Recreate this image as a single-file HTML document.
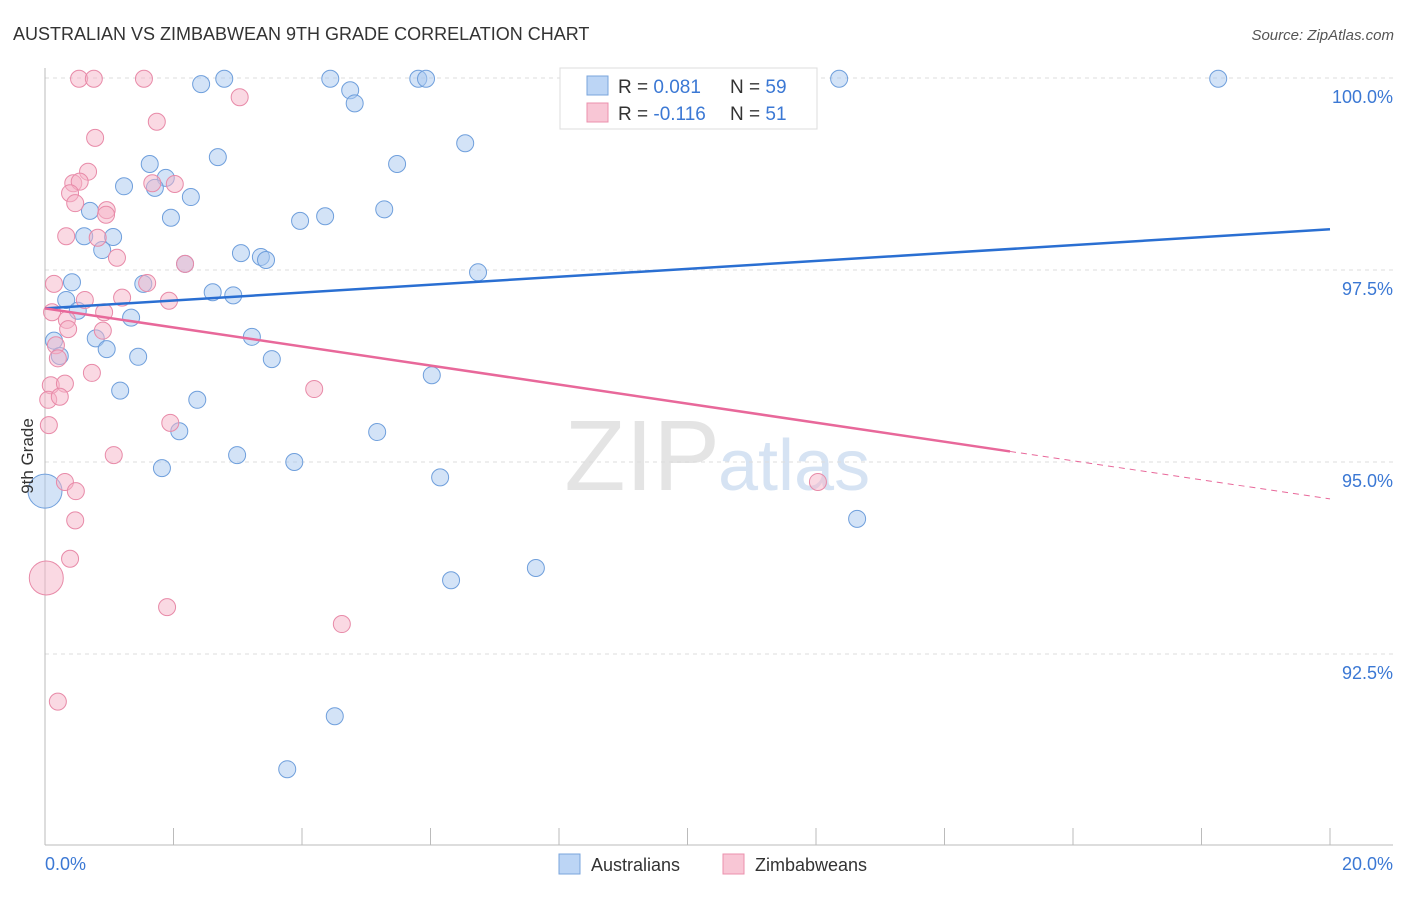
<!DOCTYPE html>
<html><head><meta charset="utf-8"><style>
body{margin:0;background:#fff;font-family:"Liberation Sans",sans-serif}
svg text{font-family:"Liberation Sans",sans-serif}
</style></head><body>
<svg id="c" width="1406" height="892" xmlns="http://www.w3.org/2000/svg">
<text x="13" y="40" font-size="18" fill="#333">AUSTRALIAN VS ZIMBABWEAN 9TH GRADE CORRELATION CHART</text>
<text x="1394" y="40" font-size="15" fill="#555" font-style="italic" text-anchor="end">Source: ZipAtlas.com</text>
<text x="720" y="490" font-size="100" fill="#e4e4e4" text-anchor="end" font-family="Liberation Serif">ZIP</text>
<text x="718" y="490" font-size="72" fill="#d6e3f3">atlas</text>
<g id="grid"></g><g id="axes"></g><g id="pts"></g><g id="lines"></g>
<text transform="translate(33,456) rotate(-90)" font-size="17" fill="#333" text-anchor="middle">9th Grade</text>
<text x="45" y="870" font-size="18" fill="#3b78d4">0.0%</text>
<text x="1393" y="870" font-size="18" fill="#3b78d4" text-anchor="end">20.0%</text>
<g>
<rect x="560" y="68" width="257" height="61" fill="#fff" stroke="#ddd"/>
<rect x="587" y="76" width="21" height="19" fill="#bcd5f5" stroke="#7aa5dc"/>
<rect x="587" y="103" width="21" height="19" fill="#f8c6d5" stroke="#eb90ad"/>
<text x="618" y="93" font-size="19" fill="#333">R = <tspan fill="#3b78d4">0.081</tspan><tspan x="730">N = </tspan><tspan fill="#3b78d4">59</tspan></text>
<text x="618" y="120" font-size="19" fill="#333">R = <tspan fill="#3b78d4">-0.116</tspan><tspan x="730">N = </tspan><tspan fill="#3b78d4"> 51</tspan></text>
</g>
<g>
<rect x="559" y="854" width="21" height="20" fill="#bcd5f5" stroke="#7aa5dc"/>
<text x="591" y="871" font-size="18" fill="#333">Australians</text>
<rect x="723" y="854" width="21" height="20" fill="#f8c6d5" stroke="#eb90ad"/>
<text x="755" y="871" font-size="18" fill="#333">Zimbabweans</text>
</g>
</svg>
<script>
const blueX=[2.43,2.79,4.44,4.75,4.82,5.81,5.93,12.36,18.26,6.54,5.48,2.69,1.63,1.88,1.71,1.23,2.27,0.70,1.96,3.97,4.36,5.28,0.61,1.06,0.89,3.05,3.36,3.44,2.18,6.74,0.42,1.53,2.61,2.93,0.33,0.51,1.34,3.22,0.79,0.14,0.96,0.23,1.45,3.53,6.02,1.17,2.37,2.09,5.17,2.99,3.88,1.82,6.15,12.64,6.32,7.64,4.51,3.77,0.0];
const blueY=[99.92,99.99,99.99,99.84,99.67,99.99,99.99,99.99,99.99,99.15,98.88,98.97,98.88,98.70,98.57,98.59,98.45,98.27,98.18,98.14,98.20,98.29,97.94,97.93,97.76,97.72,97.67,97.63,97.58,97.47,97.34,97.32,97.21,97.17,97.11,96.97,96.88,96.63,96.61,96.58,96.47,96.38,96.37,96.34,96.13,95.93,95.81,95.40,95.39,95.09,95.00,94.92,94.80,94.26,93.46,93.62,91.69,91.00,94.62];
const pinkX=[0.53,0.76,1.54,3.03,1.74,0.78,0.67,0.44,0.54,1.67,2.02,0.39,0.47,0.96,0.95,0.33,0.82,1.12,2.18,0.14,1.59,0.62,1.20,1.93,0.11,0.92,0.34,0.36,0.90,0.17,0.20,0.73,0.09,0.31,4.19,0.05,0.23,0.06,1.95,1.07,0.31,0.48,0.47,0.39,0.02,1.90,4.62,0.20,12.03];
const pinkY=[99.99,99.99,99.99,99.75,99.43,99.22,98.78,98.63,98.65,98.63,98.62,98.50,98.37,98.28,98.22,97.94,97.92,97.66,97.58,97.32,97.33,97.11,97.14,97.10,96.95,96.95,96.85,96.73,96.71,96.52,96.35,96.16,96.00,96.02,95.95,95.81,95.85,95.48,95.51,95.09,94.74,94.62,94.24,93.74,93.49,93.11,92.89,91.88,94.74];
const yTicks=[100,97.5,95,92.5];
const yTickLabels=["100.0%","97.5%","95.0%","92.5%"];
const xTicks=[0,2,4,6,8,10,12,14,16,18,20];
const blueTrend=[97.0,98.03];
const pinkTrend=[97.0,94.52];
const pinkSolidEnd=15.02;
const NS="http://www.w3.org/2000/svg";
const sx=v=>45+v*64.25, sy=v=>78+(100-v)*76.8;
function mk(t,a,p){const e=document.createElementNS(NS,t);for(const k in a)e.setAttribute(k,a[k]);p.appendChild(e);return e;}
const grid=document.getElementById('grid'),axes=document.getElementById('axes'),pts=document.getElementById('pts'),lines=document.getElementById('lines');
yTicks.forEach((v,i)=>{
  const l=mk('line',{x1:45,x2:1393,y1:sy(v),y2:sy(v),stroke:'#ddd','stroke-dasharray':'4,4'},grid);
  
  
  const t=mk('text',{x:1393,y:sy(v)+25,'font-size':18,fill:'#3b78d4','text-anchor':'end'},grid);
  t.textContent=yTickLabels[i];
  
  
});
const ya=mk('line',{x1:45,x2:45,y1:68,y2:845,stroke:'#bbb'},axes);


const xa=mk('line',{x1:45,x2:1393,y1:845,y2:845,stroke:'#bbb'},axes);


xTicks.forEach(v=>{
  const t=mk('line',{x1:sx(v),x2:sx(v),y1:828,y2:845,stroke:'#bbb'},axes);
  
  
});
function dots(X,Y,fill,stroke,name){
  X.forEach((x,i)=>{
    const big=(x<0.05&&(Y[i]===94.62||Y[i]===93.49));
    const c=mk('circle',{cx:sx(x),cy:sy(Y[i]),r:big?17:8.5,fill:fill,'fill-opacity':0.5,stroke:stroke,'stroke-width':1},pts);
    
    
  });
}
dots(blueX,blueY,'#a8c8f0','#6f9fdc','australian-point');
dots(pinkX,pinkY,'#f5b3c8','#e88aa8','zimbabwean-point');
const bl=mk('line',{x1:sx(0),y1:sy(blueTrend[0]),x2:sx(20),y2:sy(blueTrend[1]),stroke:'#2a6fd2','stroke-width':2.5},lines);


const pm=pinkTrend[0]+(pinkTrend[1]-pinkTrend[0])*pinkSolidEnd/20;
const pl=mk('line',{x1:sx(0),y1:sy(pinkTrend[0]),x2:sx(pinkSolidEnd),y2:sy(pm),stroke:'#e8689a','stroke-width':2.5},lines);


const pd=mk('line',{x1:sx(pinkSolidEnd),y1:sy(pm),x2:sx(20),y2:sy(pinkTrend[1]),stroke:'#e8689a','stroke-width':1,'stroke-dasharray':'6,5'},lines);


</script>
</body></html>
